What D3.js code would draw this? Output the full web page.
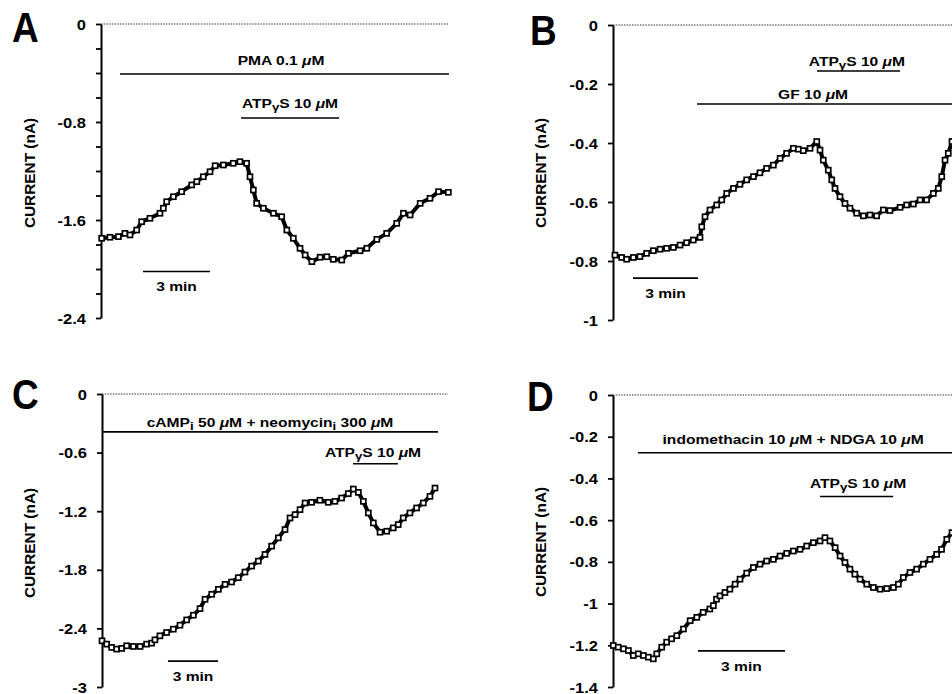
<!DOCTYPE html>
<html><head><meta charset="utf-8">
<script src="https://cdn.jsdelivr.net/npm/d3@7"></script>
<style>html,body{margin:0;padding:0;background:#fff;} svg{display:block;} text{font-family:"Liberation Sans",Arial,Helvetica,sans-serif;fill:#000;}</style>
</head><body>
<svg id="chart" width="952" height="694"></svg>
<script>
// ---------------- DATA (minutes, nA) ----------------
const timeA = [0.03,0.40,0.78,1.07,1.30,1.60,1.82,2.19,2.64,2.79,2.94,3.24,3.61,4.06,4.29,4.58,4.88,5.11,5.48,5.92,6.22,6.52,6.67,6.82,6.97,7.27,7.72,8.09,8.32,8.61,8.91,9.14,9.44,9.81,10.11,10.40,10.78,11.08,11.60,11.90,12.35,12.79,13.24,13.54,13.84,14.29,14.73,15.11,15.55];
const currentA = [-1.749,-1.741,-1.736,-1.709,-1.722,-1.682,-1.614,-1.586,-1.545,-1.504,-1.451,-1.410,-1.369,-1.314,-1.287,-1.247,-1.206,-1.157,-1.151,-1.137,-1.124,-1.137,-1.247,-1.355,-1.464,-1.504,-1.545,-1.573,-1.682,-1.749,-1.831,-1.886,-1.940,-1.904,-1.900,-1.921,-1.927,-1.872,-1.851,-1.831,-1.758,-1.709,-1.627,-1.545,-1.559,-1.464,-1.423,-1.369,-1.374];

const timeB = [0.09,0.40,0.63,0.94,1.24,1.55,1.86,2.17,2.47,2.78,3.09,3.39,3.70,4.01,4.09,4.24,4.47,4.78,5.01,5.24,5.55,5.85,6.16,6.47,6.77,7.08,7.39,7.70,8.00,8.31,8.54,8.77,9.08,9.39,9.54,9.69,9.92,10.08,10.23,10.46,10.69,10.92,11.23,11.54,11.84,12.15,12.46,12.76,13.23,13.53,13.84,14.15,14.45,14.76,14.99,15.15,15.30,15.45,15.62];
const currentB = [-0.780,-0.788,-0.794,-0.788,-0.785,-0.774,-0.765,-0.760,-0.757,-0.754,-0.746,-0.738,-0.729,-0.720,-0.684,-0.650,-0.627,-0.610,-0.593,-0.571,-0.554,-0.540,-0.525,-0.514,-0.501,-0.486,-0.475,-0.452,-0.435,-0.418,-0.421,-0.426,-0.418,-0.395,-0.424,-0.458,-0.492,-0.525,-0.554,-0.582,-0.605,-0.621,-0.638,-0.647,-0.644,-0.647,-0.627,-0.629,-0.618,-0.610,-0.607,-0.593,-0.593,-0.571,-0.554,-0.514,-0.458,-0.435,-0.395];

const timeC = [0.00,0.28,0.58,0.88,1.18,1.48,1.88,2.28,2.67,2.97,3.17,3.47,3.87,4.27,4.67,5.07,5.47,5.87,6.17,6.57,6.97,7.37,7.76,8.16,8.56,8.96,9.36,9.76,10.16,10.56,10.96,11.26,11.56,11.86,12.16,12.55,13.05,13.55,13.95,14.35,14.75,15.05,15.35,15.65,15.95,16.25,16.65,17.05,17.44,17.74,18.04,18.44,18.84,19.24,19.64,19.94];
const currentC = [-2.527,-2.561,-2.595,-2.612,-2.605,-2.578,-2.585,-2.585,-2.561,-2.551,-2.517,-2.476,-2.442,-2.408,-2.367,-2.313,-2.265,-2.197,-2.102,-2.051,-2.000,-1.949,-1.925,-1.881,-1.823,-1.762,-1.711,-1.643,-1.558,-1.473,-1.388,-1.269,-1.235,-1.184,-1.116,-1.109,-1.088,-1.109,-1.099,-1.065,-1.020,-0.973,-1.007,-1.099,-1.218,-1.320,-1.415,-1.405,-1.371,-1.337,-1.269,-1.218,-1.167,-1.116,-1.048,-0.963];

const timeD = [0.01,0.18,0.36,0.53,0.70,0.87,1.05,1.22,1.39,1.51,1.68,1.85,2.02,2.20,2.43,2.66,2.89,3.11,3.34,3.46,3.57,3.69,3.86,4.03,4.21,4.38,4.61,4.84,5.07,5.30,5.53,5.76,5.99,6.22,6.45,6.68,6.91,7.14,7.31,7.48,7.66,7.83,8.00,8.17,8.34,8.52,8.75,8.98,9.21,9.44,9.67,9.84,10.01,10.24,10.47,10.70,10.93,11.16,11.33,11.51,11.69];
const currentD = [-1.201,-1.209,-1.217,-1.225,-1.249,-1.241,-1.249,-1.257,-1.265,-1.241,-1.209,-1.185,-1.169,-1.154,-1.122,-1.082,-1.066,-1.042,-1.026,-1.010,-0.979,-0.963,-0.947,-0.931,-0.907,-0.883,-0.854,-0.827,-0.811,-0.796,-0.788,-0.772,-0.759,-0.748,-0.740,-0.724,-0.708,-0.700,-0.684,-0.700,-0.732,-0.772,-0.803,-0.835,-0.859,-0.883,-0.907,-0.923,-0.931,-0.928,-0.923,-0.907,-0.875,-0.851,-0.835,-0.811,-0.788,-0.764,-0.740,-0.692,-0.660];

// y-axis ticks and labels
const yTicksA = [0,-0.2,-0.4,-0.6,-0.8,-1.0,-1.2,-1.4,-1.6,-1.8,-2.0,-2.2,-2.4];
const yLabelsA = [0,-0.8,-1.6,-2.4];
const yTicksB = [0,-0.2,-0.4,-0.6,-0.8,-1];
const yLabelsB = [0,-0.2,-0.4,-0.6,-0.8,-1];
const yTicksC = [0,-0.6,-1.2,-1.8,-2.4,-3];
const yLabelsC = [0,-0.6,-1.2,-1.8,-2.4,-3];
const yTicksD = [0,-0.2,-0.4,-0.6,-0.8,-1,-1.2,-1.4];
const yLabelsD = [0,-0.2,-0.4,-0.6,-0.8,-1,-1.2,-1.4];

// treatments (bars: from/to in minutes); "_x_" marks subscript, μ drawn italic
const treatmentsA = [{label:"PMA 0.1 μM", from:0.85, to:15.58},{label:"ATP_γ_S 10 μM", from:6.27, to:10.66}];
const treatmentsB = [{label:"ATP_γ_S 10 μM", from:9.40, to:13.23},{label:"GF 10 μM", from:3.87, to:16.5}];
const treatmentsC = [{label:"cAMP_i_ 50 μM + neomycin_i_ 300 μM", from:0, to:20.12},{label:"ATP_γ_S 10 μM", from:15.03, to:17.72}];
const treatmentsD = [{label:"indomethacin 10 μM + NDGA 10 μM", from:0.86, to:12.5},{label:"ATP_γ_S 10 μM", from:7.14, to:9.66}];

const scaleBarMinutes = 3;
const scaleBarLabel = "3 min";
const panelLetters = ["A","B","C","D"];
const yTitle = "CURRENT (nA)";

// ---------------- LAYOUT ----------------
const panels = [
  {letter:panelLetters[0], time:timeA, current:currentA, ticks:yTicksA, labels:yLabelsA, treat:treatmentsA,
   xDomain:[0,15.58], xRange:[101,449], yDomain:[0,-2.4], yRange:[24,318],
   treatY:[-0.408,-0.767], labelX:[8.06,8.46], labelDy:[-9,-10],
   barStart:1.88, barY:-2.02, letterPos:[12,42], titlePos:[30,173]},
  {letter:panelLetters[1], time:timeB, current:currentB, ticks:yTicksB, labels:yLabelsB, treat:treatmentsB,
   xDomain:[0,15.99], xRange:[613,960], yDomain:[0,-1], yRange:[25,320],
   treatY:[-0.156,-0.268], labelX:[11.24,9.22], labelDy:[-5,-5],
   barStart:0.92, barY:-0.858, letterPos:[530,45], titlePos:[541,173]},
  {letter:panelLetters[2], time:timeC, current:currentC, ticks:yTicksC, labels:yLabelsC, treat:treatmentsC,
   xDomain:[0,20.72], xRange:[102,448], yDomain:[0,-3], yRange:[394,687],
   treatY:[-0.388,-0.714], labelX:[10.06,16.23], labelDy:[-5,-7],
   barStart:3.95, barY:-2.735, letterPos:[12,409], titlePos:[30,543]},
  {letter:panelLetters[3], time:timeD, current:currentD, ticks:yTicksD, labels:yLabelsD, treat:treatmentsD,
   xDomain:[0,12], xRange:[613,961], yDomain:[0,-1.4], yRange:[395,687],
   treatY:[-0.277,-0.487], labelX:[6.21,8.45], labelDy:[-9,-9],
   barStart:2.93, barY:-1.227, letterPos:[527,411], titlePos:[541,542]}
];

const svg = d3.select("#chart");
svg.append("rect").attr("width",952).attr("height",694).attr("fill","#fff");

function richText(g, x, y, str, o) {
  const t = g.append("text")
    .attr("transform", `translate(${x},${y})${o.rotate ? ` rotate(${o.rotate})` : ""} scale(${o.sx||1},1)`)
    .attr("text-anchor", o.anchor || "middle")
    .style("font-size", o.size + "px")
    .style("font-weight", o.weight || "bold");
  if (o.baseline) t.attr("dominant-baseline", o.baseline);
  const parts = str.split("_");
  let shifted = false;
  parts.forEach((p, i) => {
    if (!p) return;
    const sub = i % 2 === 1;
    // split out μ to draw it italic
    const pieces = p.split(/(μ)/).filter(s => s.length);
    pieces.forEach((piece, j) => {
      const sp = t.append("tspan").text(piece);
      if (piece === "μ") sp.style("font-style","italic");
      if (j === 0) {
        if (sub && !shifted) { sp.attr("dy", 3); shifted = true; }
        else if (!sub && shifted) { sp.attr("dy", -3); shifted = false; }
      }
      if (sub) sp.style("font-size", (o.size*0.85)+"px");
    });
  });
  return t;
}

const fmt = d => { const s = (+d.toFixed(1)).toString(); return s === "-0" ? "0" : s; };

panels.forEach(p => {
  const g = svg.append("g");
  const x = d3.scaleLinear().domain(p.xDomain).range(p.xRange);
  const y = d3.scaleLinear().domain(p.yDomain).range(p.yRange);

  // zero line (dotted)
  g.append("line").attr("x1", x(p.xDomain[0])).attr("x2", x(p.xDomain[1]))
    .attr("y1", y(0)).attr("y2", y(0))
    .attr("stroke","#333").attr("stroke-width",1).attr("stroke-dasharray","1.5,1.2");

  // y axis
  const ax = g.append("g").attr("transform", `translate(${p.xRange[0]},0)`)
    .call(d3.axisLeft(y).tickValues(p.ticks).tickSize(5).tickSizeOuter(0)
      .tickFormat(d => p.labels.some(l => Math.abs(l - d) < 1e-9) ? fmt(d) : ""));
  ax.select(".domain").attr("stroke","#000").attr("stroke-width",2);
  ax.selectAll(".tick line").attr("stroke","#000").attr("stroke-width",1.8);
  ax.selectAll(".tick text").attr("x",null).attr("dy",null)
    .attr("transform","translate(-15,0) scale(1.18,1)")
    .attr("dominant-baseline","central")
    .attr("text-anchor","end")
    .style("font-size","14px").style("font-weight","bold").attr("fill","#000")
    .style("font-family",'"Liberation Sans",Arial,sans-serif');

  // y title
  richText(g, p.titlePos[0], p.titlePos[1], yTitle, {size:14, weight:"bold", rotate:-90, sx:1.1, baseline:"central"});

  // panel letter
  richText(g, p.letterPos[0], p.letterPos[1], p.letter, {size:42, weight:"bold", anchor:"start", sx:0.88});

  // treatments
  p.treat.forEach((tr, i) => {
    g.append("line").attr("x1", x(tr.from)).attr("x2", x(tr.to))
      .attr("y1", y(p.treatY[i])).attr("y2", y(p.treatY[i]))
      .attr("stroke","#000").attr("stroke-width",1.6);
    richText(g, x(p.labelX[i]), y(p.treatY[i]) + p.labelDy[i], tr.label, {size:13, weight:"bold", sx:1.2});
  });

  // scale bar
  g.append("line").attr("x1", x(p.barStart)).attr("x2", x(p.barStart + scaleBarMinutes))
    .attr("y1", y(p.barY)).attr("y2", y(p.barY))
    .attr("stroke","#000").attr("stroke-width",1.6);
  richText(g, x(p.barStart + scaleBarMinutes/2), y(p.barY) + 20, scaleBarLabel, {size:13, weight:"bold", sx:1.2});

  // trace
  const pts = p.time.map((t, i) => [t, p.current[i]]);
  g.append("path").datum(pts)
    .attr("d", d3.line().x(d => x(d[0])).y(d => y(d[1])))
    .attr("fill","none").attr("stroke","#000").attr("stroke-width",4).attr("stroke-linejoin","round");
  g.selectAll("rect.pt").data(pts).join("rect").attr("class","pt")
    .attr("x", d => x(d[0]) - 2.5).attr("y", d => y(d[1]) - 2.5)
    .attr("width",5).attr("height",5)
    .attr("fill","#fff").attr("stroke","#000").attr("stroke-width",1.7);
});
</script>
</body></html>
